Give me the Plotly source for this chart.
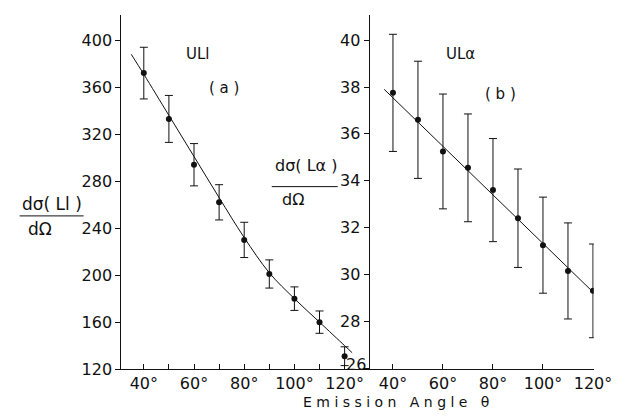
import plotly.graph_objects as go

W, H = 628, 417

# ---- data: panel (a) U L-l ----
angle_a = [40, 50, 60, 70, 80, 90, 100, 110, 120]
value_a = [372, 333, 294, 262, 230, 201, 180, 160, 131]
err_a = [22, 20, 18, 15, 15, 12, 10, 9.5, 8]
fit_angle_a = [35, 40, 50, 60, 70, 80, 90, 100, 110, 120, 123]
fit_value_a = [388, 371, 336, 301, 266, 232, 202, 180, 160, 140, 134]

# ---- data: panel (b) U L-alpha ----
angle_b = [40, 50, 60, 70, 80, 90, 100, 110, 120]
value_b = [37.75, 36.6, 35.25, 34.55, 33.6, 32.4, 31.25, 30.15, 29.3]
err_b = [2.5, 2.5, 2.45, 2.3, 2.2, 2.1, 2.05, 2.05, 2.0]
fit_angle_b = [36.5, 120]
fit_value_b = [37.9, 29.25]

# tick labels
xticks_a = [40, 50, 60, 70, 80, 90, 100, 110, 120]
xticktext_a = ["40°", "", "60°", "", "80°", "", "100°", "", "120°"]
xticks_b = [40, 60, 80, 100, 120]
xticktext_b = ["40°", "60°", "80°", "100°", "120°"]
yticks_a = [120, 160, 200, 240, 280, 320, 360, 400]
yticks_b = [26, 28, 30, 32, 34, 36, 38, 40]
yticktext_b = ["", "28", "30", "32", "34", "36", "38", "40"]  # "26" drawn separately, lifted clear of "120°"

FONT = "DejaVu Sans"
INK = "#111111"

fig = go.Figure()

marker = dict(color=INK, size=6)
fig.add_trace(go.Scatter(
    x=fit_angle_a, y=fit_value_a, mode="lines", line=dict(color=INK, width=1, shape="spline"),
    xaxis="x", yaxis="y", hoverinfo="skip"))
fig.add_trace(go.Scatter(
    x=angle_a, y=value_a, mode="markers", marker=marker,
    error_y=dict(type="data", array=err_a, color=INK, thickness=1, width=4),
    xaxis="x", yaxis="y"))
fig.add_trace(go.Scatter(
    x=fit_angle_b, y=fit_value_b, mode="lines", line=dict(color=INK, width=1),
    xaxis="x2", yaxis="y2", hoverinfo="skip"))
fig.add_trace(go.Scatter(
    x=angle_b, y=value_b, mode="markers", marker=marker,
    error_y=dict(type="data", array=err_b, color=INK, thickness=1, width=4),
    xaxis="x2", yaxis="y2"))

def px(x):
    return x / W

def py(y):
    return 1 - y / H

ydom = [py(370), py(7)]
axcommon = dict(showgrid=False, zeroline=False, showline=True, linecolor=INK, linewidth=1.2,
                tickcolor=INK, ticklen=5, tickwidth=1,
                tickfont=dict(family=FONT, size=16, color=INK))

fig.update_layout(
    width=W, height=H,
    margin=dict(l=0, r=0, t=0, b=0),
    paper_bgcolor="white", plot_bgcolor="white",
    showlegend=False,
    font=dict(family=FONT, color=INK),
    xaxis=dict(domain=[px(117), px(373)], range=[31.1, 130.0], tickvals=xticks_a, ticktext=xticktext_a,
               ticks="inside", anchor="y", **axcommon),
    yaxis=dict(domain=ydom, range=[120, 421.6], tickvals=yticks_a, ticks="outside", anchor="x", **axcommon),
    xaxis2=dict(domain=[px(373), px(604)], range=[30.7, 120.3], tickvals=xticks_b, ticktext=xticktext_b,
                ticks="inside", anchor="y2", **axcommon),
    yaxis2=dict(domain=ydom, range=[25.96, 41.08], tickvals=yticks_b, ticktext=yticktext_b,
                ticks="outside", anchor="x2", **axcommon),
)

def ann(text, x, y, size=16, xanchor="center"):
    fig.add_annotation(text=text, x=px(x), y=py(y), xref="paper", yref="paper", showarrow=False,
                       font=dict(family=FONT, size=size, color=INK), xanchor=xanchor, yanchor="middle")

ann("26", 371, 365, 16, xanchor="right")

ann("ULl", 196, 47, 15)
ann("( a )", 223, 82, 15)
ann("ULα", 467, 47, 15)
ann("( b )", 508, 88, 15)

# y-axis titles as fractions
ann("dσ( Ll )", 45, 201, 17)
ann("dΩ", 33, 226, 17)
ann("dσ( Lα )", 307, 161, 16)
ann("dΩ", 294, 196, 16)
fig.add_shape(type="line", xref="paper", yref="paper", x0=px(12), x1=px(78), y0=py(213), y1=py(213),
              line=dict(color=INK, width=1))
fig.add_shape(type="line", xref="paper", yref="paper", x0=px(272), x1=px(340), y0=py(183), y1=py(183),
              line=dict(color=INK, width=1))

ann("E m i s s i o n   A n g l e   θ", 400, 404, 14)

fig.write_html("out.html")
